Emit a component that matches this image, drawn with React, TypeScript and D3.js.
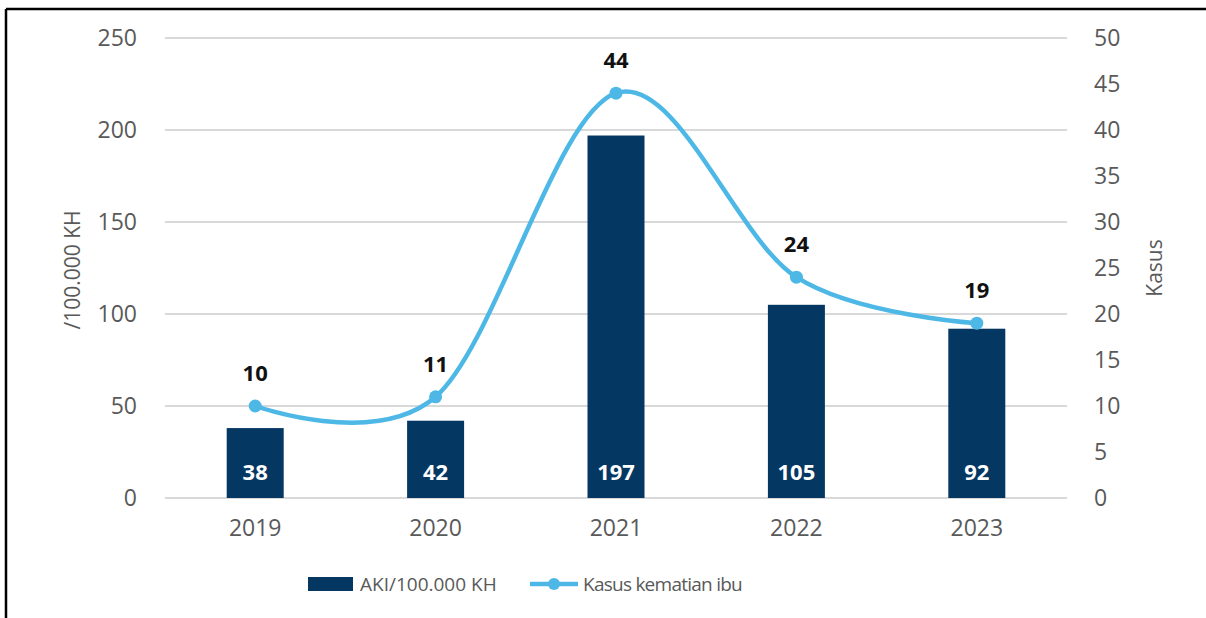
import React from "react";
import * as d3 from "d3";

const years = ["2019", "2020", "2021", "2022", "2023"];
const aki = [38, 42, 197, 105, 92];
const kasus = [10, 11, 44, 24, 19];
const leftTicks = [0, 50, 100, 150, 200, 250];
const rightTicks = [0, 5, 10, 15, 20, 25, 30, 35, 40, 45, 50];

const W = 1206;
const H = 618;
const FONT = "'Open Sans', sans-serif";
const BAR = "#053763";
const LINE = "#4DB8E6";
const GREY = "#595959";

export default function App() {
  const x = d3.scaleBand<string>().domain(years).range([165, 1067]).paddingInner(0).paddingOuter(0);
  const yL = d3.scaleLinear().domain([0, 250]).range([498, 38]);
  const yR = d3.scaleLinear().domain([0, 50]).range([498, 38]);
  const barW = 57;
  const cx = (y: string) => (x(y) as number) + x.bandwidth() / 2;
  const line = d3
    .line<number>()
    .x((_, i) => cx(years[i]))
    .y((d) => yR(d))
    .curve(d3.curveCardinal.tension(0));

  return (
    <svg width={W} height={H} style={{ position: "absolute", left: 0, top: 0, background: "#fff" }} fontFamily={FONT}>
      <rect x={0} y={0} width={W} height={H} fill="#fff" />
      <line x1={6} y1={9} x2={W} y2={9} stroke="#000" strokeWidth={2.5} />
      <line x1={6} y1={9} x2={6} y2={H} stroke="#000" strokeWidth={2.5} />

      {leftTicks.map((t) => (
        <g key={"g" + t}>
          <line x1={165} x2={1067} y1={yL(t)} y2={yL(t)} stroke="#d9d9d9" strokeWidth={1.8} />
          <text x={137} y={yL(t)} dy="0.35em" textAnchor="end" fontSize={23} fill={GREY}>
            {t}
          </text>
        </g>
      ))}
      {rightTicks.map((t) => (
        <text key={"r" + t} x={1094} y={yR(t)} dy="0.35em" textAnchor="start" fontSize={23} fill={GREY}>
          {t}
        </text>
      ))}

      {years.map((yv, i) => (
        <g key={yv}>
          <rect x={cx(yv) - barW / 2} y={yL(aki[i])} width={barW} height={yL(0) - yL(aki[i])} fill={BAR} />
          <text x={cx(yv)} y={480} textAnchor="middle" fontSize={22} fontWeight="bold" fill="#fff">
            {aki[i]}
          </text>
          <text x={cx(yv)} y={536} textAnchor="middle" fontSize={23} fill={GREY}>
            {yv}
          </text>
        </g>
      ))}

      <path d={line(kasus) || ""} fill="none" stroke={LINE} strokeWidth={4.5} strokeLinecap="round" />
      {kasus.map((k, i) => (
        <g key={"k" + i}>
          <circle cx={cx(years[i])} cy={yR(k)} r={6.5} fill={LINE} />
          <text x={cx(years[i])} y={yR(k) - 25} textAnchor="middle" fontSize={22} fontWeight="bold" fill="#111">
            {k}
          </text>
        </g>
      ))}

      <text transform={`translate(80,270) rotate(-90)`} textAnchor="middle" fontSize={21} fill={GREY}>
        /100.000 KH
      </text>
      <text transform={`translate(1162,268) rotate(-90)`} textAnchor="middle" fontSize={21} fill={GREY}>
        Kasus
      </text>

      <rect x={308} y={577} width={45} height={14} fill={BAR} />
      <text x={360} y={584} dy="0.35em" fontSize={19} fill={GREY}>
        AKI/100.000 KH
      </text>
      <line x1={530} x2={578} y1={584} y2={584} stroke={LINE} strokeWidth={4.5} />
      <circle cx={554} cy={584} r={6} fill={LINE} />
      <text x={583} y={584} dy="0.35em" fontSize={19} fill={GREY} letterSpacing={-0.75}>
        Kasus kematian ibu
      </text>
    </svg>
  );
}
